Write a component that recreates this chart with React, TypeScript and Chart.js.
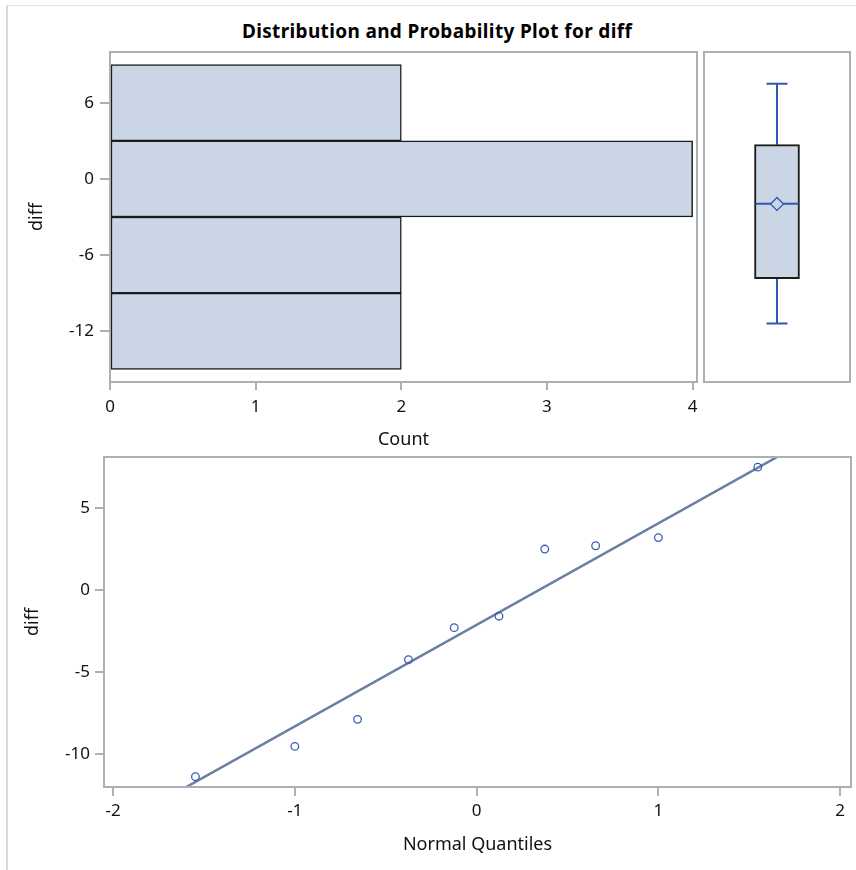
import React, { useEffect, useRef } from 'react';
import { Chart, registerables } from 'chart.js';

Chart.register(...registerables);

// ---------- data ----------
const BIN_MIDPOINTS = [6, 0, -6, -12];
const BIN_COUNTS = [2, 4, 2, 2];
const DIFF_TICKS = [-12, -6, 0, 6];
const COUNT_TICKS = [0, 1, 2, 3, 4];

const BOX_CATEGORY = ['diff'];
const BOX_LOW = [-11.4];
const BOX_Q1 = [-7.85];
const BOX_MEDIAN = [-1.95];
const BOX_MEAN = [-1.97];
const BOX_Q3 = [2.7];
const BOX_HIGH = [7.5];

const QQ_QUANTILES = [-1.547, -1.0, -0.655, -0.375, -0.123, 0.123, 0.375, 0.655, 1.0, 1.547];
const QQ_DIFF = [-11.4, -9.55, -7.9, -4.25, -2.3, -1.6, 2.5, 2.7, 3.2, 7.5];
const QQ_X_TICKS = [-2, -1, 0, 1, 2];
const QQ_Y_TICKS = [-10, -5, 0, 5];
const REF_MU = [-2.13];
const REF_SIGMA = [6.2];

// ---------- styles ----------
const FONT = '"Noto Sans", sans-serif';
const FRAME = '#aab0b5';
const BAR_FILL = '#cad5e5';
const BAR_EDGE = '#1c1c1c';
const BOX_BLUE = '#2f58b2';
const MARKER_BLUE = '#3a5db3';
const REF_LINE = '#6a7fa2';

Chart.defaults.font.family = FONT;

const framePlugin = {
  id: 'frame',
  afterDraw(chart: any) {
    const { ctx, chartArea: a } = chart;
    ctx.save();
    ctx.strokeStyle = FRAME;
    ctx.lineWidth = 2;
    ctx.strokeRect(a.left, a.top, a.right - a.left, a.bottom - a.top);
    ctx.restore();
  },
};

const fixedTicks = (values: number[]) => (scale: any) => {
  scale.ticks = values.map((v) => ({ value: v }));
};

const noLabelPadding = (s: any) => {
  s.paddingLeft = 0;
  s.paddingRight = 0;
  s.paddingTop = 0;
  s.paddingBottom = 0;
};

const tickFont = { size: 17, family: FONT };
const titleFont = { size: 18, family: FONT };

function histConfig(): any {
  return {
    type: 'bar',
    data: {
      datasets: [
        {
          data: BIN_MIDPOINTS.map((m, i) => ({ x: BIN_COUNTS[i], y: m })),
          backgroundColor: BAR_FILL,
          borderColor: BAR_EDGE,
          borderWidth: 1.5,
          borderSkipped: false,
          barPercentage: 1,
          categoryPercentage: 1,
        },
      ],
    },
    options: {
      indexAxis: 'y',
      responsive: false,
      animation: false,
      events: [],
      layout: { autoPadding: false, padding: { top: 52, right: 3, left: 0, bottom: 0 } },
      plugins: { legend: { display: false }, tooltip: { enabled: false } },
      scales: {
        x: {
          type: 'linear',
          min: 0,
          max: 4.03,
          afterBuildTicks: fixedTicks(COUNT_TICKS),
          afterFit: (s: any) => { s.height = 78; noLabelPadding(s); },
          grid: { drawOnChartArea: false, tickLength: 8, color: FRAME, lineWidth: 2 },
          border: { display: false },
          ticks: { font: tickFont, color: '#111', padding: 7, maxRotation: 0 },
          title: { display: true, text: 'Count', font: titleFont, color: '#111', padding: { top: 0, bottom: 9 } },
        },
        y: {
          type: 'linear',
          min: -16,
          max: 10,
          offset: false,
          afterBuildTicks: fixedTicks(DIFF_TICKS),
          afterFit: (s: any) => { s.width = 110; noLabelPadding(s); },
          grid: { drawOnChartArea: false, tickLength: 10, color: FRAME, lineWidth: 2, offset: false },
          border: { display: false },
          ticks: { font: tickFont, color: '#111', padding: 6 },
          title: { display: true, text: 'diff', font: titleFont, color: '#111', padding: { top: 26, bottom: 0 } },
        },
      },
    },
    plugins: [framePlugin],
  };
}

function boxConfig(): any {
  const pt = (arr: number[]) => arr.map((v, i) => ({ x: BOX_CATEGORY[i], y: v }));
  return {
    type: 'bar',
    data: {
      labels: BOX_CATEGORY,
      datasets: [
        {
          type: 'line',
          data: [...pt(BOX_Q3), ...pt(BOX_HIGH)],
          borderColor: BOX_BLUE,
          borderWidth: 2,
          pointRadius: 0,
          order: 6,
        },
        {
          type: 'line',
          data: [...pt(BOX_Q1), ...pt(BOX_LOW)],
          borderColor: BOX_BLUE,
          borderWidth: 2,
          pointRadius: 0,
          order: 6,
        },
        {
          type: 'bar',
          data: BOX_Q1.map((q, i) => [q, BOX_Q3[i]]),
          backgroundColor: BAR_FILL,
          borderColor: BAR_EDGE,
          borderWidth: 2,
          borderSkipped: false,
          barThickness: 45,
          order: 5,
        },
        {
          type: 'line',
          data: [...pt(BOX_LOW), ...pt(BOX_HIGH)],
          showLine: false,
          pointStyle: 'line',
          pointRadius: 10.5,
          pointBorderColor: BOX_BLUE,
          pointBorderWidth: 2,
          order: 4,
        },
        {
          type: 'line',
          data: pt(BOX_MEDIAN),
          showLine: false,
          pointStyle: 'line',
          pointRadius: 21.5,
          pointBorderColor: BOX_BLUE,
          pointBorderWidth: 2,
          order: 2,
        },
        {
          type: 'line',
          data: pt(BOX_MEAN),
          showLine: false,
          pointStyle: 'rectRot',
          pointRadius: 6.5,
          pointBackgroundColor: BAR_FILL,
          pointBorderColor: BOX_BLUE,
          pointBorderWidth: 1.3,
          order: 1,
        },
      ],
    },
    options: {
      responsive: false,
      animation: false,
      events: [],
      layout: { autoPadding: false, padding: { top: 10, right: 4, left: 10, bottom: 10 } },
      plugins: { legend: { display: false }, tooltip: { enabled: false } },
      scales: {
        x: { type: 'category', display: false, offset: true },
        y: { type: 'linear', display: false, min: -16, max: 10 },
      },
    },
    plugins: [framePlugin],
  };
}

function qqConfig(): any {
  const xMin = -2.05;
  const xMax = 2.06;
  return {
    type: 'scatter',
    data: {
      datasets: [
        {
          data: QQ_QUANTILES.map((q, i) => ({ x: q, y: QQ_DIFF[i] })),
          pointStyle: 'circle',
          pointRadius: 3.8,
          pointBorderWidth: 1.3,
          pointBorderColor: MARKER_BLUE,
          pointBackgroundColor: 'rgba(0,0,0,0)',
          showLine: false,
          order: 1,
        },
        {
          type: 'line',
          data: [xMin, xMax].map((x) => ({ x, y: REF_MU[0] + REF_SIGMA[0] * x })),
          borderColor: REF_LINE,
          borderWidth: 2.5,
          pointRadius: 0,
          order: 2,
        },
      ],
    },
    options: {
      responsive: false,
      animation: false,
      events: [],
      layout: { autoPadding: false, padding: { top: 12, right: 5, left: 0, bottom: 0 } },
      plugins: { legend: { display: false }, tooltip: { enabled: false } },
      scales: {
        x: {
          type: 'linear',
          min: xMin,
          max: xMax,
          afterBuildTicks: fixedTicks(QQ_X_TICKS),
          afterFit: (s: any) => { s.height = 83; noLabelPadding(s); },
          grid: { drawOnChartArea: false, tickLength: 9, color: FRAME, lineWidth: 2 },
          border: { display: false },
          ticks: { font: tickFont, color: '#111', padding: 5, maxRotation: 0 },
          title: { display: true, text: 'Normal Quantiles', font: titleFont, color: '#111', padding: { top: 0, bottom: 14 } },
        },
        y: {
          type: 'linear',
          min: -12.03,
          max: 8.12,
          afterBuildTicks: fixedTicks(QQ_Y_TICKS),
          afterFit: (s: any) => { s.width = 104; noLabelPadding(s); },
          grid: { drawOnChartArea: false, tickLength: 9, color: FRAME, lineWidth: 2 },
          border: { display: false },
          ticks: { font: tickFont, color: '#111', padding: 5 },
          title: { display: true, text: 'diff', font: titleFont, color: '#111', padding: { top: 22, bottom: 0 } },
        },
      },
    },
    plugins: [framePlugin],
  };
}

function ChartCanvas(props: { makeConfig: () => any; left: number; top: number; width: number; height: number }) {
  const ref = useRef<HTMLCanvasElement | null>(null);
  useEffect(() => {
    const chart = new Chart(ref.current as HTMLCanvasElement, props.makeConfig());
    return () => chart.destroy();
  }, []);
  return (
    <canvas
      ref={ref}
      width={props.width}
      height={props.height}
      style={{ position: 'absolute', left: props.left, top: props.top, width: props.width, height: props.height }}
    />
  );
}

export default function App() {
  return (
    <div
      style={{
        position: 'fixed',
        left: 0,
        top: 0,
        width: 856,
        height: 870,
        overflow: 'hidden',
        background: '#fff',
        fontFamily: FONT,
      }}
    >
      <div
        style={{
          position: 'absolute',
          left: 6,
          top: 5,
          right: -20,
          bottom: -20,
          borderLeft: '2px solid #d9d9d9',
          borderTop: '1px solid #e2e2e2',
        }}
      />
      <div
        style={{
          position: 'absolute',
          left: 0,
          top: 19,
          width: 874,
          textAlign: 'center',
          fontWeight: 700,
          fontSize: 19,
          letterSpacing: '0.35px',
          lineHeight: '24px',
          color: '#000',
        }}
      >
        Distribution and Probability Plot for diff
      </div>
      <ChartCanvas makeConfig={histConfig} left={0} top={0} width={700} height={460} />
      <ChartCanvas makeConfig={boxConfig} left={694} top={42} width={160} height={350} />
      <ChartCanvas makeConfig={qqConfig} left={0} top={445} width={856} height={425} />
    </div>
  );
}
